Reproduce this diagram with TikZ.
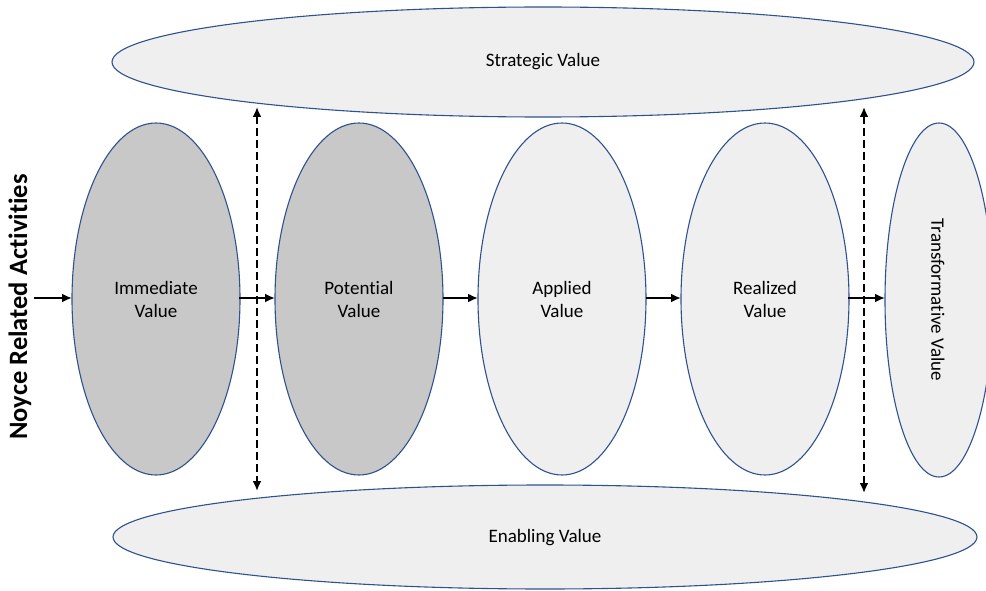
\documentclass[tikz,border=0pt]{standalone}
\usepackage{fontspec}
\setmainfont[Ligatures={NoCommon}]{Carlito}
\usetikzlibrary{arrows.meta}
\definecolor{edgeblue}{HTML}{2F528F}
\definecolor{darkfill}{HTML}{C8C8C8}
\definecolor{lightfill}{HTML}{EFEFEF}
\begin{document}
\begin{tikzpicture}[x=1pt,y=-1pt,
  lbl/.style={font=\fontsize{19}{23}\selectfont,align=center,text=black},
  flow/.style={-{Latex[length=10pt,width=9pt]},line width=2.4pt},
  dbl/.style={{Latex[length=10pt,width=9pt]}-{Latex[length=10pt,width=9pt]},line width=2.4pt,dash pattern=on 8pt off 4pt}]
\useasboundingbox (0,0) rectangle (986,591);
\begin{scope}
\clip (0,0) rectangle (986,591);
% big ellipses
\draw[edgeblue,line width=1.1pt,fill=lightfill] (543,62) ellipse [x radius=431, y radius=55];
\draw[edgeblue,line width=1.1pt,fill=lightfill] (545,537) ellipse [x radius=432, y radius=52];
% column ellipses
\draw[edgeblue,line width=1.1pt,fill=darkfill] (156,299) ellipse [x radius=84, y radius=176];
\draw[edgeblue,line width=1.1pt,fill=darkfill] (359,299) ellipse [x radius=84, y radius=176];
\draw[edgeblue,line width=1.1pt,fill=lightfill] (562,299) ellipse [x radius=84, y radius=176];
\draw[edgeblue,line width=1.1pt,fill=lightfill] (765,299) ellipse [x radius=84, y radius=176];
\draw[edgeblue,line width=1.1pt,fill=lightfill] (939,300) ellipse [x radius=54, y radius=177];
\end{scope}
\node[lbl] (strat) at (543,62) {Strategic Value};
\node[lbl] (enab) at (545,538) {Enabling Value};
\node[lbl] (imm) at (156,299) {Immediate\\Value};
\node[lbl] (pot) at (359,299) {Potential\\Value};
\node[lbl] (app) at (562,299) {Applied\\Value};
\node[lbl] (rea) at (765,299) {Realized\\Value};
\node[lbl,rotate=-90] (tra) at (938,300) {Transformative Value};
\node[font=\fontsize{26.5}{30}\selectfont\bfseries,rotate=90] (noyce) at (20,307) {Noyce Related Activities};
% anchor coordinates
\coordinate (a0) at (34,298);
\coordinate (a0e) at (72,298);
\coordinate (a1s) at (239,298);
\coordinate (a1e) at (275,298);
\coordinate (a2s) at (443,298);
\coordinate (a2e) at (478,298);
\coordinate (a3s) at (646,298);
\coordinate (a3e) at (681,298);
\coordinate (a4s) at (848,298);
\coordinate (a4e) at (885,298);
\draw[flow] (a0) -- (a0e);
\draw[flow] (a1s) -- (a1e);
\draw[flow] (a2s) -- (a2e);
\draw[flow] (a3s) -- (a3e);
\draw[flow] (a4s) -- (a4e);
\coordinate (d1t) at (257,107);
\coordinate (d1b) at (257,491);
\coordinate (d2t) at (864,107);
\coordinate (d2b) at (864,493);
\draw[dbl] (d1t) -- (d1b);
\draw[dbl] (d2t) -- (d2b);
\end{tikzpicture}
\end{document}
